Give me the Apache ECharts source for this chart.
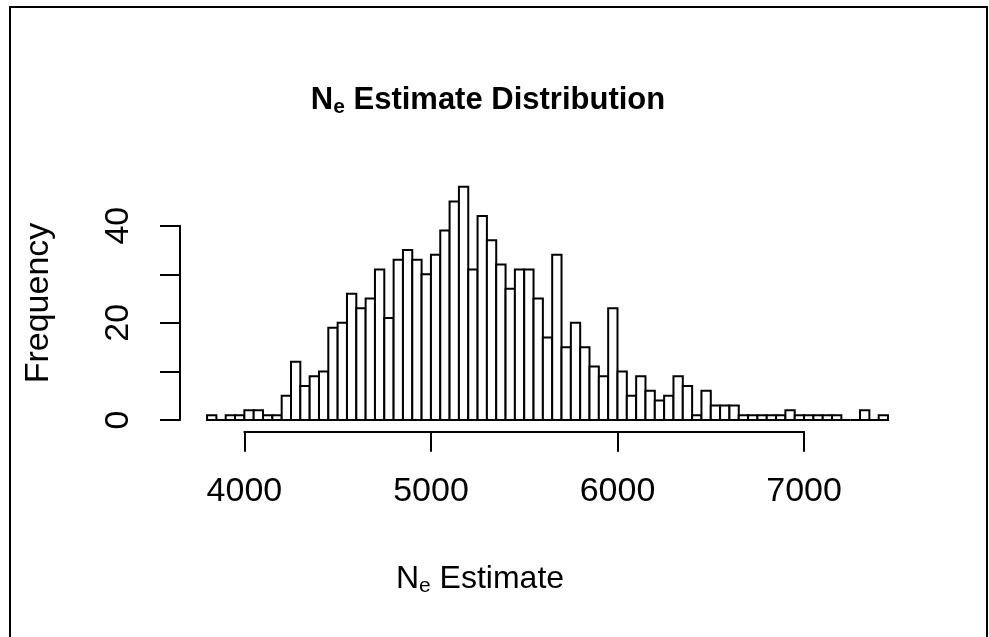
<!DOCTYPE html>
<html>
<head>
<meta charset="utf-8">
<script src="https://cdn.jsdelivr.net/npm/echarts@6/dist/echarts.min.js"></script>
<style>
  html, body { margin: 0; padding: 0; background: #fff; }
  #chart { width: 989px; height: 637px; }
</style>
</head>
<body>
<div id="chart"></div>
<script>
// Histogram bin edges (width 50) and the count in each bin
const binEdges = [
  3800, 3850, 3900, 3950, 4000, 4050, 4100, 4150, 4200, 4250,
  4300, 4350, 4400, 4450, 4500, 4550, 4600, 4650, 4700, 4750,
  4800, 4850, 4900, 4950, 5000, 5050, 5100, 5150, 5200, 5250,
  5300, 5350, 5400, 5450, 5500, 5550, 5600, 5650, 5700, 5750,
  5800, 5850, 5900, 5950, 6000, 6050, 6100, 6150, 6200, 6250,
  6300, 6350, 6400, 6450, 6500, 6550, 6600, 6650, 6700, 6750,
  6800, 6850, 6900, 6950, 7000, 7050, 7100, 7150, 7200, 7250,
  7300, 7350, 7400, 7450
];
const counts = [
  1, 0, 1, 1, 2, 2, 1, 1, 5, 12,
  7, 9, 10, 19, 20, 26, 23, 25, 31, 21,
  33, 35, 33, 30, 34, 39, 45, 48, 31, 42,
  37, 32, 27, 31, 31, 25, 17, 34, 15, 20,
  15, 11, 9, 23, 10, 5, 9, 6, 4, 5,
  9, 7, 1, 6, 3, 3, 3, 1, 1, 1,
  1, 1, 2, 1, 1, 1, 1, 1, 0, 0,
  2, 0, 1
];
const xTicks = [4000, 5000, 6000, 7000];
const yTicks = [0, 10, 20, 30, 40];
const yLabelled = [0, 20, 40];

const chartTitle = 'Estimate Distribution';
const xTitle = 'Estimate';
const yTitle = 'Frequency';

const FONT = '"Liberation Sans", Arial, sans-serif';
const INK = '#000';

const bins = counts.map((c, i) => [binEdges[i], binEdges[i + 1], c]);

const chart = echarts.init(document.getElementById('chart'), null, { renderer: 'canvas' });

chart.setOption({
  animation: false,
  backgroundColor: '#fff',
  grid: [
    // plotting area for the bars
    { left: 180, width: 736, top: 225.7, height: 194.3 },
    // detached x axis drawn beneath the bars
    { left: 244.4, width: 559.7, top: 400, height: 31.7 }
  ],
  xAxis: [
    { gridIndex: 0, type: 'value', min: 3655, max: 7600, show: false },
    {
      gridIndex: 1, type: 'value', min: xTicks[0], max: xTicks[xTicks.length - 1], interval: 1000,
      axisLine: { show: true, onZero: false, lineStyle: { color: INK, width: 2 } },
      axisTick: { show: true, inside: false, length: 20, lineStyle: { color: INK, width: 2 } },
      axisLabel: {
        show: true, margin: 43, color: INK, fontFamily: FONT, fontSize: 34,
        formatter: v => String(v)
      },
      splitLine: { show: false }
    }
  ],
  yAxis: [
    {
      gridIndex: 0, type: 'value', min: yTicks[0], max: yTicks[yTicks.length - 1], interval: 10,
      axisLine: { show: true, onZero: false, lineStyle: { color: INK, width: 2 } },
      axisTick: { show: true, inside: false, length: 20, lineStyle: { color: INK, width: 2 } },
      axisLabel: {
        show: true, rotate: 90, margin: 44, color: INK, fontFamily: FONT, fontSize: 34,
        formatter: v => (yLabelled.indexOf(v) >= 0 ? String(v) : '')
      },
      splitLine: { show: false }
    },
    { gridIndex: 1, type: 'value', min: 0, max: 1, show: false }
  ],
  series: [
    {
      type: 'custom',
      xAxisIndex: 0,
      yAxisIndex: 0,
      clip: false,
      data: bins,
      renderItem: function (params, api) {
        const p0 = api.coord([api.value(0), 0]);
        const p1 = api.coord([api.value(1), api.value(2)]);
        return {
          type: 'rect',
          shape: { x: p0[0], y: p1[1], width: p1[0] - p0[0], height: p0[1] - p1[1] },
          style: { fill: '#fff', stroke: INK, lineWidth: 2 }
        };
      }
    }
  ],
  graphic: [
    {
      type: 'rect', silent: true,
      shape: { x: 10, y: 7, width: 977, height: 640 },
      style: { fill: null, stroke: INK, lineWidth: 2 }
    },
    {
      type: 'text', x: 488, y: 100,
      style: {
        text: '{m|N}{s|e}{m| ' + chartTitle + '}',
        align: 'center', verticalAlign: 'middle',
        rich: {
          m: { fontFamily: FONT, fontSize: 31, fontWeight: 'bold', lineHeight: 36, fill: INK },
          s: { fontFamily: FONT, fontSize: 21, fontWeight: 'bold', lineHeight: 23, verticalAlign: 'bottom', fill: INK }
        }
      }
    },
    {
      type: 'text', x: 480, y: 579,
      style: {
        text: '{m|N}{s|e}{m| ' + xTitle + '}',
        align: 'center', verticalAlign: 'middle',
        rich: {
          m: { fontFamily: FONT, fontSize: 32, lineHeight: 36, fill: INK },
          s: { fontFamily: FONT, fontSize: 21, lineHeight: 21, verticalAlign: 'bottom', fill: INK }
        }
      }
    },
    {
      type: 'text', x: 39, y: 303, rotation: Math.PI / 2,
      style: {
        text: yTitle, fontFamily: FONT, fontSize: 34, fill: INK,
        align: 'center', verticalAlign: 'middle'
      }
    }
  ]
});
</script>
</body>
</html>
